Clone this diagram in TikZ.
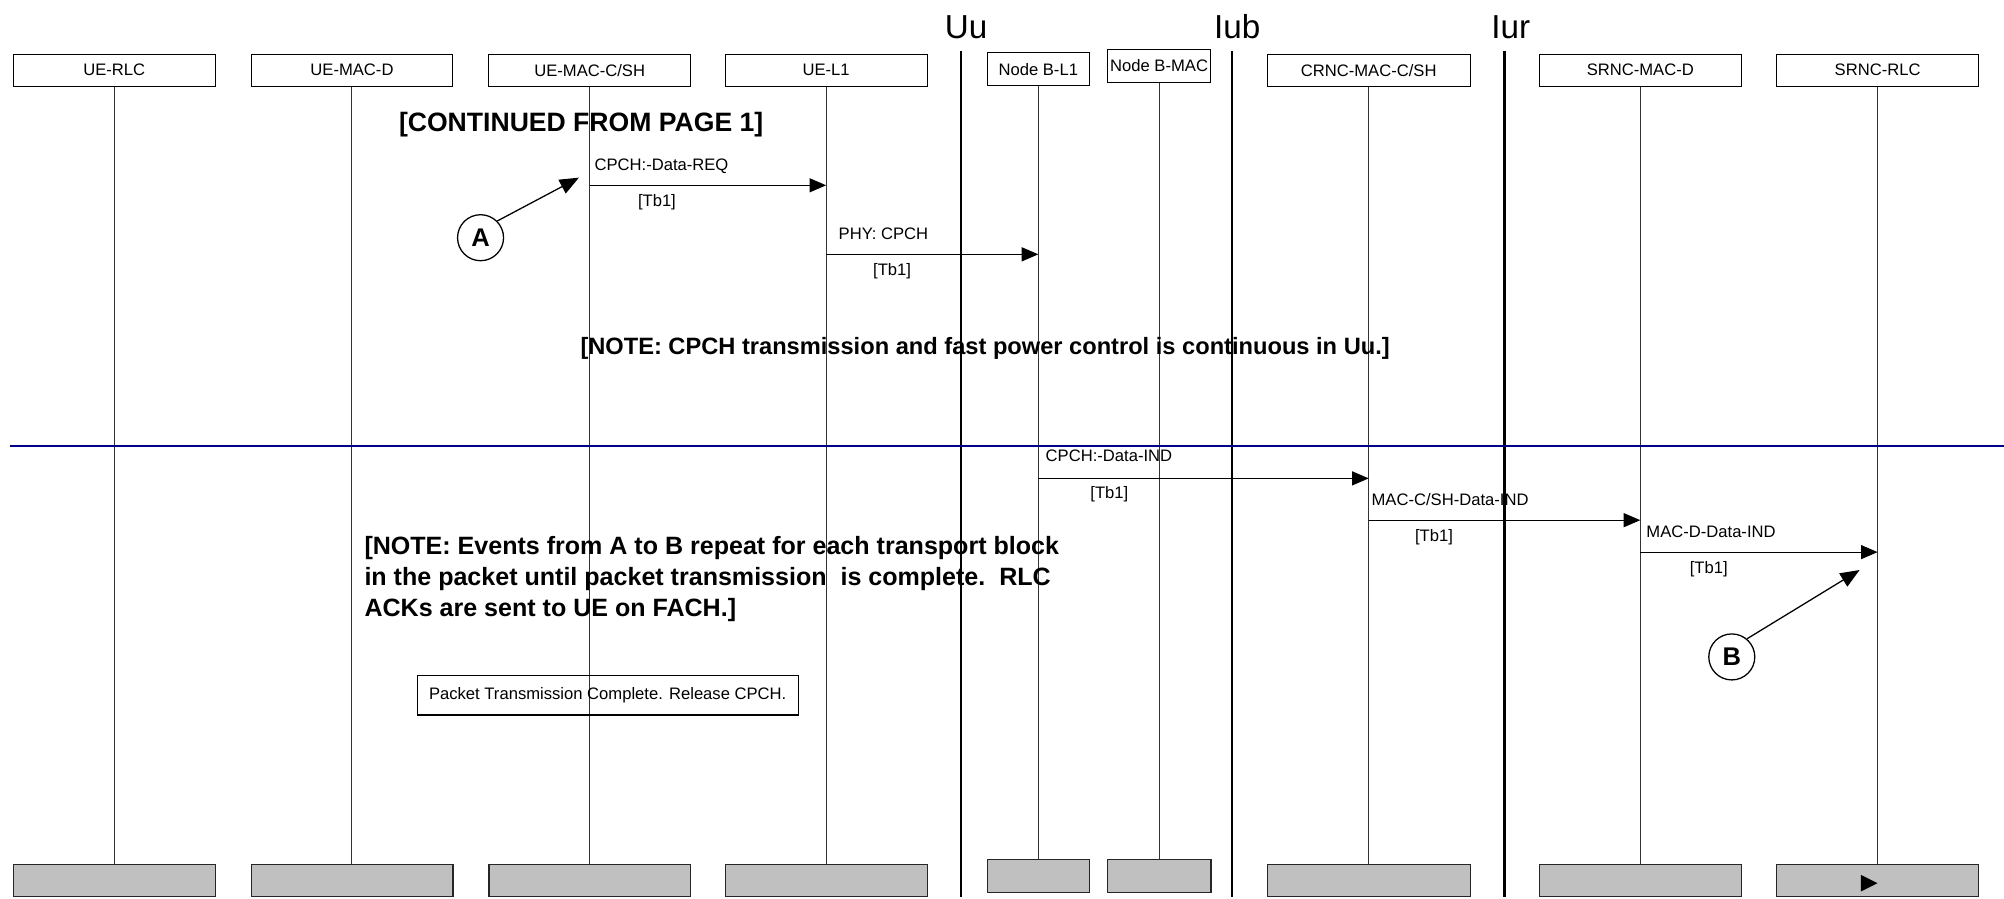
\documentclass[tikz,border=0pt]{standalone}
\usepackage{fontspec}
\setmainfont{Liberation Sans}
\usetikzlibrary{arrows.meta}
\definecolor{footgray}{HTML}{C0C0C0}
\definecolor{navyline}{HTML}{00008B}
\begin{document}
\begin{tikzpicture}[x=1pt,y=-1pt,
  hdr/.style={draw, line width=0.8pt, anchor=north west, minimum height=25pt, inner sep=0pt, font=\fontsize{13}{15}\selectfont},
  foot/.style={draw=black!85, fill=footgray, line width=1pt, anchor=north west, minimum height=25pt, inner sep=0pt},
  life/.style={line width=0.8pt, black!80},
  iface/.style={line width=2pt},
  iflbl/.style={font=\fontsize{26}{28}\selectfont, inner sep=0pt, anchor=base},
  msg/.style={line width=0.8pt, -{Triangle[length=13pt,width=11pt]}},
  ptr/.style={line width=1pt, -{Triangle[length=15pt,width=12pt]}},
  lbl/.style={font=\fontsize{13}{15}\selectfont, inner sep=0pt, anchor=west},
  tb/.style={font=\fontsize{13}{15}\selectfont, inner sep=0pt},
  note/.style={inner sep=0pt, anchor=base west, align=left},
  circ/.style={circle, draw, line width=1pt, minimum size=36pt, inner sep=0pt, font=\fontsize{20}{22}\selectfont\bfseries},
]
\useasboundingbox (0,0) rectangle (1568,703);

% headers
\node[hdr, minimum width=158pt] (uerlc) at (10,42) {UE-RLC};
\node[hdr, minimum width=158pt] (uemacd) at (196,42) {UE-MAC-D};
\node[hdr, minimum width=158pt] (uemacc) at (382,42) {UE-MAC-C/SH};
\node[hdr, minimum width=158pt] (uel1) at (567,42) {UE-L1};
\node[hdr, minimum width=80pt, minimum height=25.5pt] (nbl1) at (772,41) {Node B-L1};
\node[hdr, minimum width=81pt, minimum height=26pt] (nbmac) at (866,38) {Node B-MAC};
\node[hdr, minimum width=159pt] (crnc) at (991,42) {CRNC-MAC-C/SH};
\node[hdr, minimum width=158pt] (srncd) at (1204,42) {SRNC-MAC-D};
\node[hdr, minimum width=158pt] (srncr) at (1389.7,42) {SRNC-RLC};

% footers
\node[foot, minimum width=158pt] (fuerlc) at (10,676) {};
\node[foot, minimum width=158pt] (fuemacd) at (196,676) {};
\node[foot, minimum width=158pt] (fuemacc) at (382,676) {};
\node[foot, minimum width=158pt] (fuel1) at (567,676) {};
\node[foot, minimum width=80pt, minimum height=26pt] (fnbl1) at (772,672) {};
\node[foot, minimum width=81pt, minimum height=26pt] (fnbmac) at (866,672) {};
\node[foot, minimum width=159pt] (fcrnc) at (991,676) {};
\node[foot, minimum width=158pt] (fsrncd) at (1204,676) {};
\node[foot, minimum width=158pt] (fsrncr) at (1389.7,676) {};

% lifelines
\foreach \n in {uerlc,uemacd,uemacc,uel1,nbl1,nbmac,crnc,srncd,srncr}
  \draw[life] (\n.south) -- (\n.south |- f\n.north);

% interfaces
\coordinate (uutop) at (752,40);  \coordinate (uubot) at (752,702);
\coordinate (iubtop) at (964,40); \coordinate (iubbot) at (964,702);
\coordinate (iurtop) at (1177,40); \coordinate (iurbot) at (1177,702);
\draw[iface] (uutop) -- (uubot);
\draw[iface] (iubtop) -- (iubbot);
\draw[iface] (iurtop) -- (iurbot);
\node[iflbl] (uulbl) at (756,30) {Uu};
\node[iflbl] (iublbl) at (968,30) {Iub};
\node[iflbl] (iurlbl) at (1182,30) {Iur};

% separator
\coordinate (sepl) at (8,349); \coordinate (sepr) at (1568,349);
\draw[navyline, line width=1.5pt] (sepl) -- (sepr);

% message rows
\coordinate (m1) at (0,145);
\coordinate (m2) at (0,199);
\coordinate (m3) at (0,374.3);
\coordinate (m4) at (0,407);
\coordinate (m5) at (0,432);

\draw[msg] (uemacc.south |- m1) -- (uel1.south |- m1);
\node[lbl] (l1) at (465,130) {CPCH:-Data-REQ};
\node[tb] (t1) at (514,158) {[Tb1]};

\draw[msg] (uel1.south |- m2) -- (nbl1.south |- m2);
\node[lbl] (l2) at (656,183) {PHY: CPCH};
\node[tb] (t2) at (698,212) {[Tb1]};

\draw[msg] (nbl1.south |- m3) -- (crnc.south |- m3);
\node[lbl] (l3) at (818,357) {CPCH:-Data-IND};
\node[tb] (t3) at (868,387) {[Tb1]};

\draw[msg] (crnc.south |- m4) -- (srncd.south |- m4);
\node[lbl] (l4) at (1073,391) {MAC-C/SH-Data-IND};
\node[tb] (t4) at (1122,420) {[Tb1]};

\draw[msg] (srncd.south |- m5) -- (srncr.south |- m5);
\node[lbl] (l5) at (1288,416) {MAC-D-Data-IND};
\node[tb] (t5) at (1337,445) {[Tb1]};

% notes
\node[note, font=\fontsize{20.8}{24}\selectfont\bfseries] (cont) at (312,103) {[CONTINUED FROM PAGE 1]};
\node[note, font=\fontsize{18.5}{24}\selectfont\bfseries] (note1) at (454,277) {[NOTE: CPCH transmission and fast power control is continuous in Uu.]};
\node[note, font=\fontsize{19.6}{24}\selectfont\bfseries] (note2) at (285,482) {[NOTE: Events from A to B repeat for each transport block\\in the packet until packet transmission\ \ is complete.\ \ RLC\\ACKs are sent to UE on FACH.]};

\node[draw, line width=1pt, anchor=north west, minimum width=298pt, minimum height=31pt, inner sep=0pt, font=\fontsize{13}{15}\selectfont] (release) at (326,528) {Packet Transmission Complete. Release CPCH.};

% markers
\node[circ] (A) at (376,186) {A};
\coordinate (Atip) at (453,139);
\draw[ptr] (A.45) -- (Atip);
\node[circ] (B) at (1355,514) {B};
\coordinate (Btip) at (1455,446);
\draw[ptr] (B.50) -- (Btip);

% stray arrowhead in SRNC-RLC footer
\fill (1456,684.5) -- (1469,691) -- (1456,697.5) -- cycle;
\end{tikzpicture}
\end{document}
